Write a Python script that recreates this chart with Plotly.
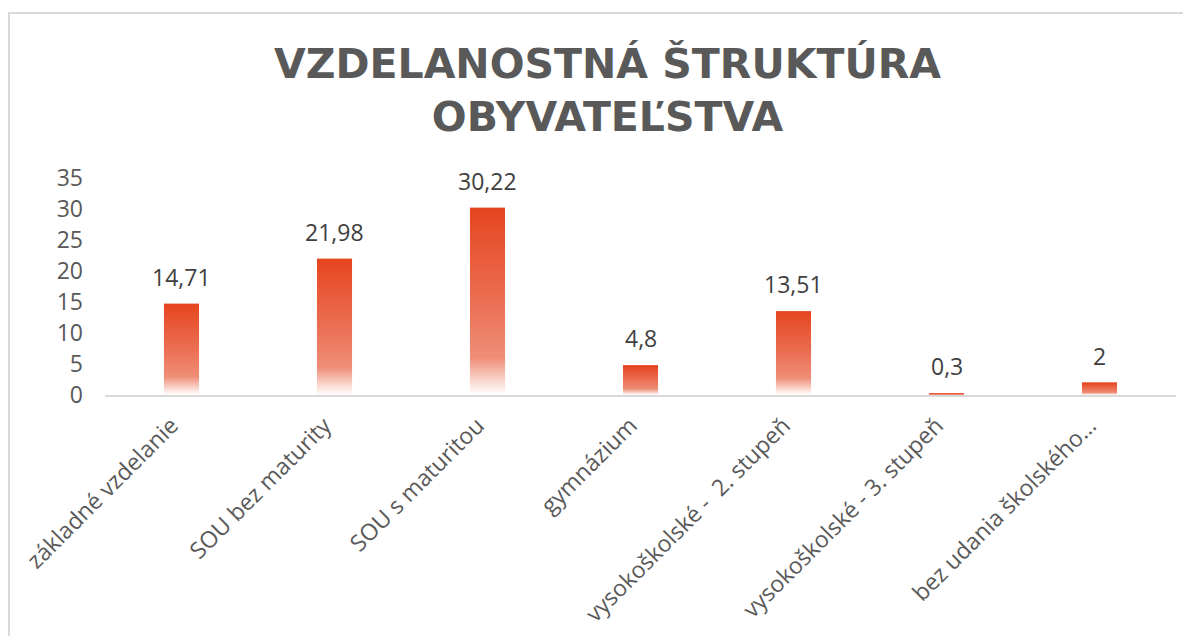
import plotly.graph_objects as go

categories = ["základné vzdelanie", "SOU bez maturity", "SOU s maturitou", "gymnázium",
              "vysokoškolské -  2. stupeň", "vysokoškolské - 3. stupeň", "bez udania školského…"]
values = [14.71, 21.98, 30.22, 4.8, 13.51, 0.3, 2]
value_labels = ["14,71", "21,98", "30,22", "4,8", "13,51", "0,3", "2"]
y_ticks = [0, 5, 10, 15, 20, 25, 30, 35]
title_text = "VZDELANOSTNÁ ŠTRUKTÚRA<br>OBYVATEĽSTVA"

# page body has an 8px margin, so the figure is offset by (8, 8) in the window
OFF = 8
W, H = 1191 - OFF, 636 - OFF
L, T = 105 - OFF, 178 - OFF
plot_w = 1176 - 105
plot_h = 395 - 178
R = W - L - plot_w
B = H - T - plot_h
bar_w = 0.229

grad = [[0.0, "#FFFFFF"], [0.06, "#FBE0D9"], [0.2, "#EF8E78"], [0.5, "#EB6F53"], [1.0, "#E5451F"]]

idx = list(range(len(categories)))
fig = go.Figure()
fig.add_trace(go.Bar(x=idx, y=values, width=bar_w, marker=dict(color="#EB6F53", line=dict(width=0)),
                     hoverinfo="skip", showlegend=False))
for i, v in zip(idx, values):
    fig.add_trace(go.Scatter(
        x=[i - bar_w / 2, i + bar_w / 2, i + bar_w / 2, i - bar_w / 2, i - bar_w / 2],
        y=[0, 0, v, v, 0], mode="none", fill="toself",
        fillgradient=dict(type="vertical", colorscale=grad),
        hoverinfo="skip", showlegend=False))

for i, v, lab in zip(idx, values, value_labels):
    fig.add_annotation(x=i, y=v, text=lab, showarrow=False, yanchor="bottom", yshift=9,
                       font=dict(family="Open Sans", size=23, color="#404040"))

# page coords -> paper coords
def px(xp):
    return (xp - 105) / plot_w

def py(yp):
    return 1 + (178 - yp) / plot_h

fig.add_annotation(x=px(607), y=py(90), xref="paper", yref="paper",
                   text="<b>" + title_text + "</b>", showarrow=False, xanchor="center", yanchor="middle",
                   font=dict(family="DejaVu Sans", size=41, color="#595959"))

# chart border (cropped at right and bottom)
fig.add_shape(type="rect", xref="paper", yref="paper",
              x0=px(9), x1=px(1191 + 40), y0=py(636 + 40), y1=py(13),
              line=dict(color="#D9D9D9", width=2), fillcolor="rgba(0,0,0,0)", layer="below")

fig.update_layout(
    width=W, height=H, margin=dict(l=L, r=R, t=T, b=B),
    paper_bgcolor="white", plot_bgcolor="white", showlegend=False,
    xaxis=dict(range=[-0.5, len(categories) - 0.5], tickmode="array", tickvals=idx, ticktext=categories,
               tickangle=-45, showgrid=False, zeroline=False, showline=True, linecolor="#D9D9D9",
               linewidth=2, ticks="", ticklabelstandoff=6, ticklabelshift=-10,
               tickfont=dict(family="Open Sans", size=23, color="#595959"),
               automargin=False),
    yaxis=dict(range=[0, 35], tickmode="array", tickvals=y_ticks, showgrid=False, zeroline=False,
               showline=False, ticks="", ticklabelstandoff=21,
               tickfont=dict(family="Open Sans", size=23, color="#595959"), automargin=False),
)
fig.write_html("out.html")
